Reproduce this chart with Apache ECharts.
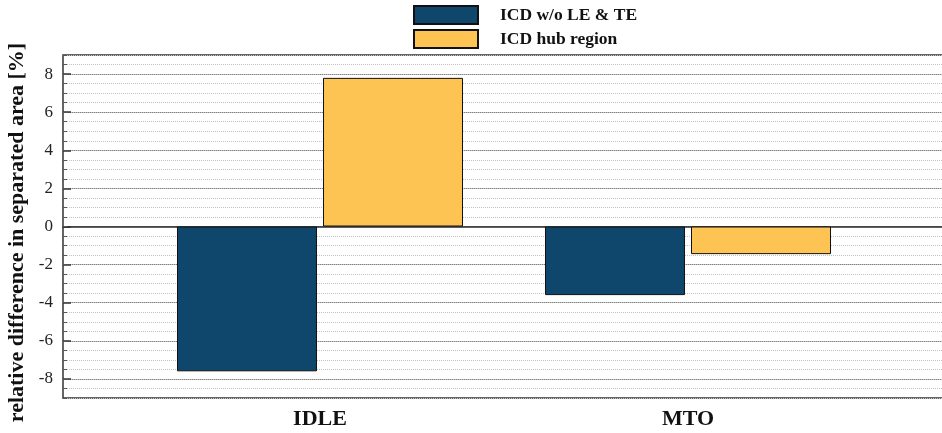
<!DOCTYPE html>
<html><head><meta charset="utf-8">
<script src="https://cdn.jsdelivr.net/npm/echarts@6/dist/echarts.min.js"></script>
<style>html,body{margin:0;padding:0;background:#fff}#c{width:942px;height:433px}</style>
</head><body><div id="c"></div>
<script>
const categories = ['IDLE', 'MTO'];
const seriesNames = ['ICD w/o LE & TE', 'ICD hub region'];
const woLeTe = [-7.6, -3.6];
const hubRegion = [7.8, -1.45];
const tickLabels = [-8, -6, -4, -2, 0, 2, 4, 6, 8];
const yMin = -9, yMax = 9;
const yTitle = 'relative difference in separated area [%]';

const serif = '"Liberation Serif", "Times New Roman", serif';
const chart = echarts.init(document.getElementById('c'));
chart.setOption({
  animation: false,
  legend: {
    orient: 'vertical', left: 413, top: 5, padding: 0, itemWidth: 64, itemHeight: 18, itemGap: 4, icon: 'rect',
    textStyle: { fontFamily: serif, fontWeight: 'bold', fontSize: 17.5, color: '#111', padding: [0, 0, 0, 17] },
    data: seriesNames
  },
  grid: [
    { left: 63, right: -10, top: 55, bottom: 35, outerBoundsMode: 'none', containLabel: false,
      show: true, borderColor: '#333', borderWidth: 1.5, backgroundColor: 'transparent' },
    { left: 136, right: 70, top: 55, bottom: 35, outerBoundsMode: 'none', containLabel: false }
  ],
  xAxis: [
    { gridIndex: 0, type: 'value', min: 0, max: 1, axisLabel: { show: false }, axisTick: { show: false }, splitLine: { show: false },
      axisLine: { show: true, onZero: true, lineStyle: { color: '#2a2a2a', width: 1.6 } } },
    { gridIndex: 1, type: 'category', data: categories, axisLine: { show: false }, axisTick: { show: false },
      axisLabel: { margin: 10, fontFamily: serif, fontWeight: 'bold', fontSize: 22, color: '#111' } }
  ],
  yAxis: [
    { gridIndex: 0, type: 'value', min: yMin, max: yMax,
      name: yTitle, nameLocation: 'middle', nameGap: 32,
      nameTextStyle: { fontFamily: serif, fontWeight: 'bold', fontSize: 22, color: '#111', padding: [0, 12, 0, 0] },
      axisLine: { show: false },
      axisTick: { show: true, inside: true, length: 8, customValues: tickLabels, lineStyle: { color: '#333', width: 1.5 } },
      axisLabel: { customValues: tickLabels, margin: 10, fontFamily: serif, fontSize: 17, color: '#222' },
      splitLine: { show: true, lineStyle: { color: '#808080', width: 1.2 } } },
    { gridIndex: 0, type: 'value', min: yMin, max: yMax, interval: 0.5, position: 'left',
      axisLine: { show: false }, axisLabel: { show: false },
      axisTick: { show: true, inside: true, length: 4, lineStyle: { color: '#555' } },
      splitLine: { show: true, lineStyle: { color: '#c2c2c2', type: [1, 1], width: 1 } } },
    { gridIndex: 1, type: 'value', min: yMin, max: yMax, show: false, splitLine: { show: false } }
  ],
  series: [
    { name: seriesNames[0], type: 'bar', xAxisIndex: 1, yAxisIndex: 2, data: woLeTe, barWidth: 140, barGap: '4.3%',
      itemStyle: { color: '#0f476c', borderColor: '#111', borderWidth: 1 } },
    { name: seriesNames[1], type: 'bar', xAxisIndex: 1, yAxisIndex: 2, data: hubRegion, barWidth: 140, barGap: '4.3%',
      itemStyle: { color: '#fdc353', borderColor: '#111', borderWidth: 1 } }
  ]
});
</script></body></html>
